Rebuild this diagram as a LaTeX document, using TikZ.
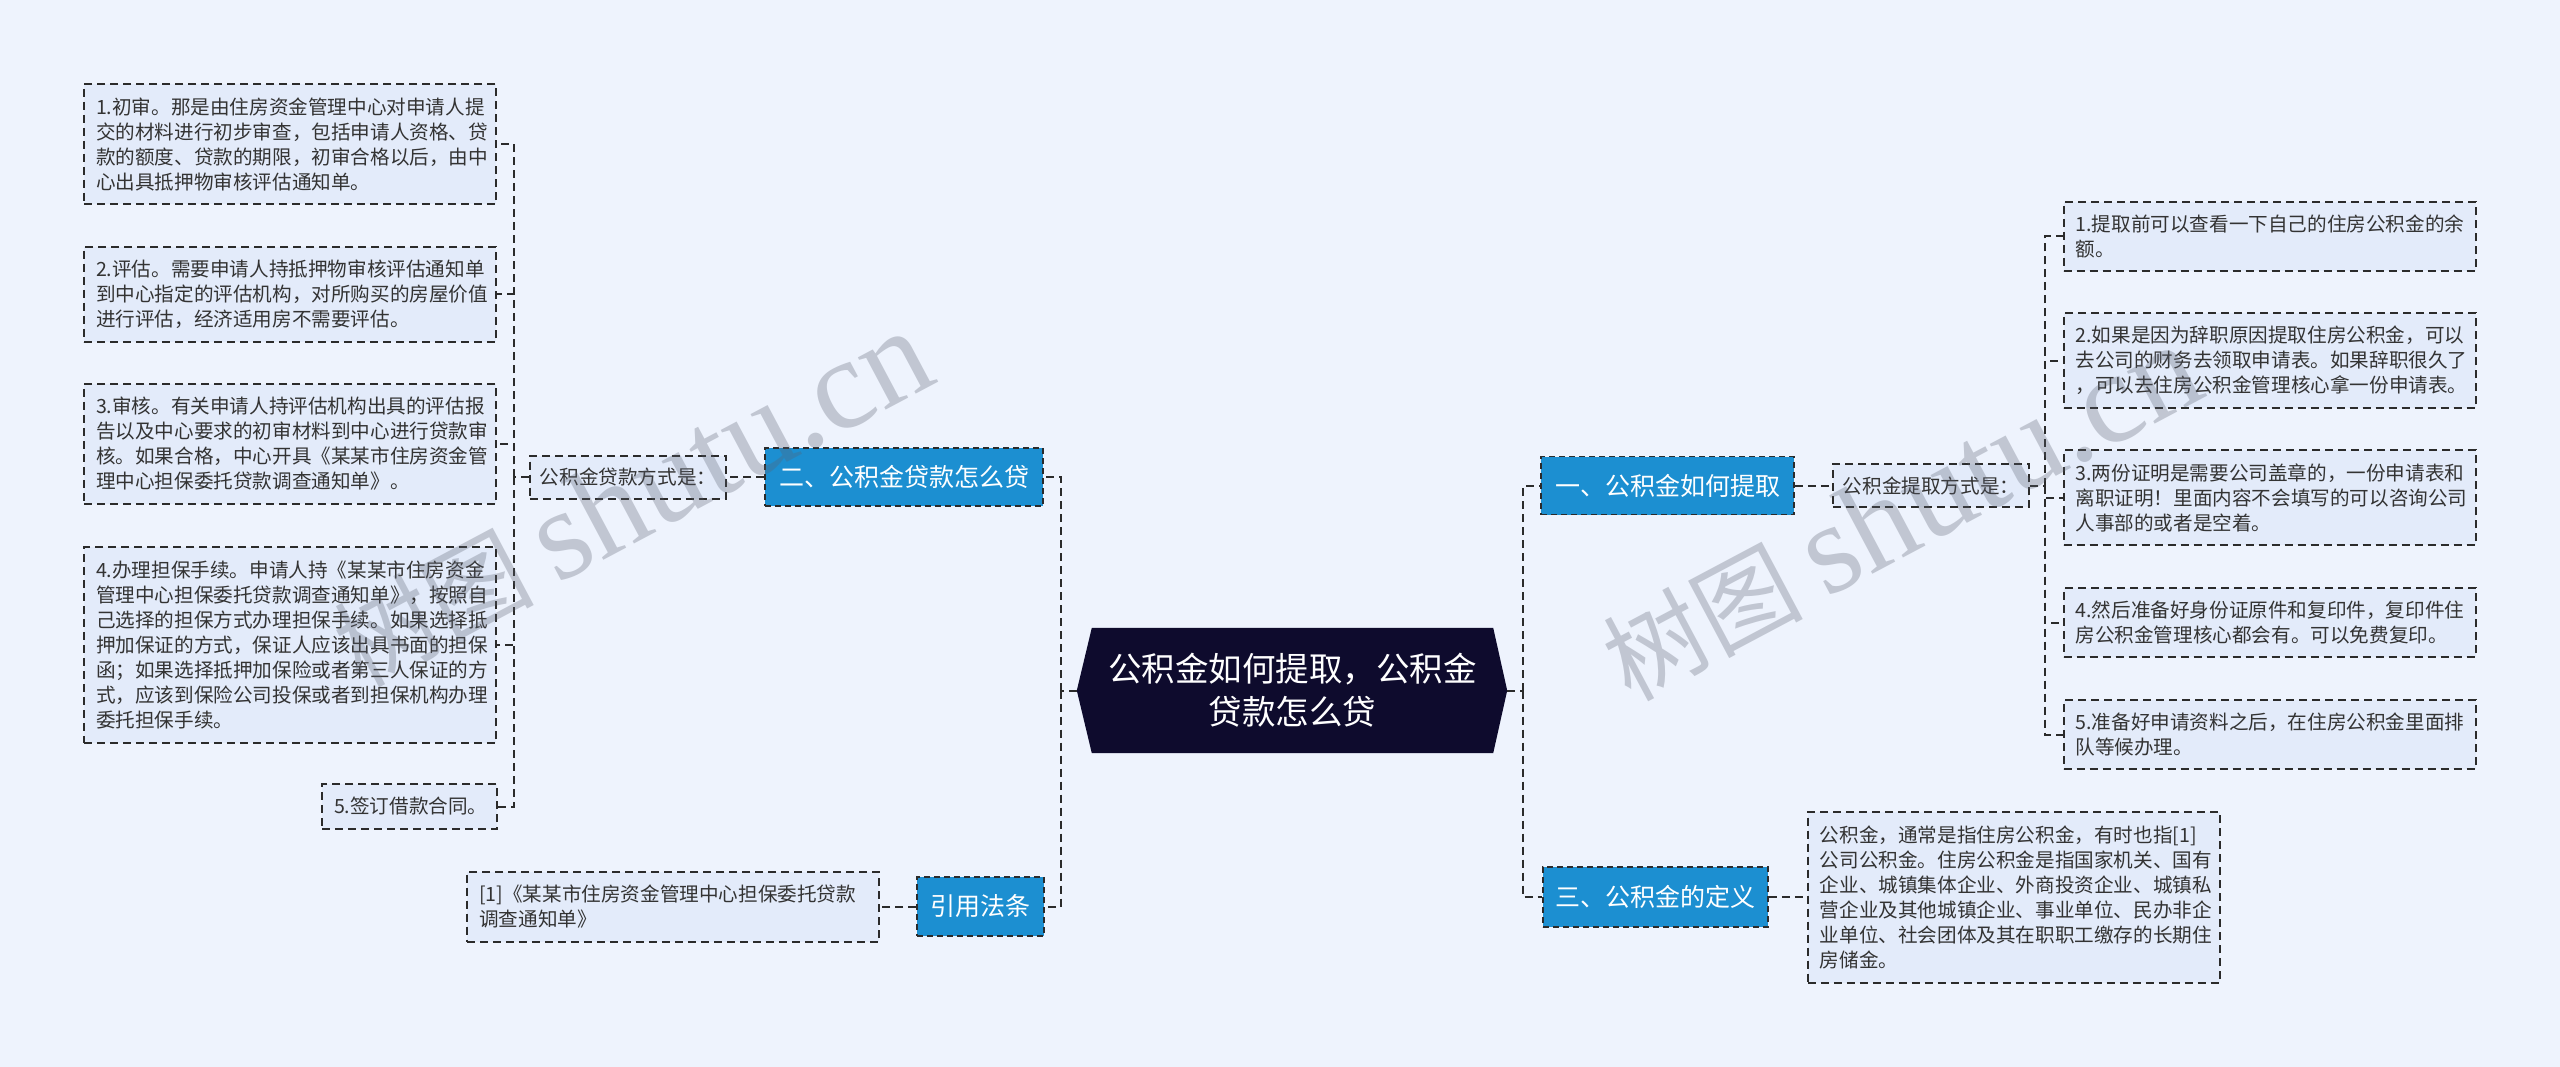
\documentclass[tikz,border=0pt]{standalone}
\usepackage{fontspec}
\setmainfont{Noto Sans CJK SC}
\newfontfamily\marklatin{Liberation Serif}
\usetikzlibrary{
  positioning,
  calc,
  backgrounds
}
\definecolor{pagebg}{HTML}{EEF3FD}
\definecolor{leaffill}{HTML}{E3EBFA}
\definecolor{linedark}{HTML}{2B2B2B}
\definecolor{textdark}{HTML}{333333}
\definecolor{branchblue}{HTML}{1C8FD1}
\definecolor{rootnavy}{HTML}{0E0B2D}
\definecolor{markgray}{HTML}{5A6070}
\newcommand{\leaffont}{\fontsize{19.6}{25}\selectfont}
\newcommand{\branchfont}{\fontsize{25}{30}\selectfont}
\newcommand{\rootfont}{\fontsize{33.5}{43}\selectfont}
\newcommand{\markfont}{\fontsize{100}{100}\selectfont}
\tikzset{
  dashbox/.style={
    rectangle, draw=linedark, fill=leaffill, line width=2pt,
    dash pattern=on 8pt off 5pt, text=textdark, font=\leaffont
  },
  leafbox/.style={
    dashbox, align=left, text width=388pt, inner xsep=12pt, inner ysep=6pt
  },
  link/.style={draw=linedark, line width=2pt, dash pattern=on 8pt off 5pt},
}

\begin{document}
\begin{tikzpicture}[
  x=1pt, y=-1pt,
  branchnode/.style={rectangle, fill=branchblue, draw=linedark, line width=1.6pt, dash pattern=on 6pt off 4pt, text=white, font=\branchfont, inner xsep=10pt, minimum height=58pt},
  modebox/.style={dashbox, inner xsep=10pt, minimum width=195pt, minimum height=43pt},
  rootnode/.style={rectangle, text=white, font=\rootfont, align=center, minimum width=401pt, minimum height=125pt, inner sep=0pt},
  watermark/.style={text=markgray, text opacity=0.3, inner sep=0pt, font=\markfont},
]
\useasboundingbox (0,0) rectangle (2560,1067);
\begin{scope}[on background layer]
  \fill[pagebg] (0,0) rectangle (2560,1067);
\end{scope}

% Root
\node[rootnode] (root) at (1292.5, 690.5) {公积金如何提取，公积金\\贷款怎么贷};
\coordinate (rootW) at ($(root.west)+(-15,0)$);
\coordinate (rootE) at ($(root.east)+(14,0)$);
\begin{scope}[on background layer]
  \fill[rootnavy] (root.north west) -- (root.north east) -- (rootE) -- (root.south east) -- (root.south west) -- (rootW) -- cycle;
\end{scope}

% Left branch: loans
\node[branchnode, minimum width=278pt] (b2) at (904, 477) {二、公积金贷款怎么贷};
\node[modebox, left=37pt of b2] (mode2) {公积金贷款方式是：};

\node[leafbox, minimum height=120pt] (L1) at (290, 144) {1.初审。那是由住房资金管理中心对申请人提\\交的材料进行初步审查，包括申请人资格、贷\\款的额度、贷款的期限，初审合格以后，由中\\心出具抵押物审核评估通知单。};
\node[leafbox, minimum height=95pt] (L2) at (290, 294.5) {2.评估。需要申请人持抵押物审核评估通知单\\到中心指定的评估机构，对所购买的房屋价值\\进行评估，经济适用房不需要评估。};
\node[leafbox, minimum height=120pt] (L3) at (290, 444) {3.审核。有关申请人持评估机构出具的评估报\\告以及中心要求的初审材料到中心进行贷款审\\核。如果合格，中心开具《某某市住房资金管\\理中心担保委托贷款调查通知单》。};
\node[leafbox, minimum height=196pt] (L4) at (290, 645) {4.办理担保手续。申请人持《某某市住房资金\\管理中心担保委托贷款调查通知单》，按照自\\己选择的担保方式办理担保手续。如果选择抵\\押加保证的方式，保证人应该出具书面的担保\\函；如果选择抵押加保险或者第三人保证的方\\式，应该到保险公司投保或者到担保机构办理\\委托担保手续。};
\node[leafbox, text width=151pt, minimum height=45pt] (L5) at (409.5, 806.5) {5.签订借款合同。};

% Left branch: law
\node[branchnode, minimum width=127pt, minimum height=59pt] (law) at (980.5, 906.5) {引用法条};
\node[leafbox, minimum height=70pt, left=36pt of law] (ref) {[1]《某某市住房资金管理中心担保委托贷款\\调查通知单》};

% Right branch: withdrawal
\node[branchnode, minimum width=253pt] (b1) at (1667.5, 485.5) {一、公积金如何提取};
\node[modebox, right=37pt of b1] (mode1) {公积金提取方式是：};

\node[leafbox, minimum height=69pt] (R1) at (2269.5, 236.5) {1.提取前可以查看一下自己的住房公积金的余\\额。};
\node[leafbox, minimum height=95pt] (R2) at (2269.5, 360.5) {2.如果是因为辞职原因提取住房公积金，可以\\去公司的财务去领取申请表。如果辞职很久了\\，可以去住房公积金管理核心拿一份申请表。};
\node[leafbox, minimum height=95pt] (R3) at (2269.5, 497.5) {3.两份证明是需要公司盖章的，一份申请表和\\离职证明！里面内容不会填写的可以咨询公司\\人事部的或者是空着。};
\node[leafbox, minimum height=69pt] (R4) at (2269.5, 622.5) {4.然后准备好身份证原件和复印件，复印件住\\房公积金管理核心都会有。可以免费复印。};
\node[leafbox, minimum height=69pt] (R5) at (2269.5, 734.5) {5.准备好申请资料之后，在住房公积金里面排\\队等候办理。};

% Right branch: definition
\node[branchnode, minimum width=225pt, minimum height=60pt] (b3) at (1655.5, 897) {三、公积金的定义};
\node[leafbox, minimum height=171pt, right=38pt of b3] (def) {公积金，通常是指住房公积金，有时也指[1]\\公司公积金。住房公积金是指国家机关、国有\\企业、城镇集体企业、外商投资企业、城镇私\\营企业及其他城镇企业、事业单位、民办非企\\业单位、社会团体及其在职职工缴存的长期住\\房储金。};

% Connectors
\coordinate (ltrunk) at (1061, 690.5);
\coordinate (rtrunk) at (1523, 690.5);
\coordinate (lbr) at (514, 477);
\coordinate (rbr) at (2045, 485.5);
\draw[link] (rootW) -- (ltrunk);
\draw[link] (ltrunk) |- (b2.east);
\draw[link] (ltrunk) |- (law.east);
\draw[link] (rootE) -- (rtrunk);
\draw[link] (rtrunk) |- (b1.west);
\draw[link] (rtrunk) |- (b3.west);
\draw[link] (b2.west) -- (mode2.east);
\draw[link] (mode2.west) -- (lbr);
\foreach \i in {1,...,5} \draw[link] (lbr) |- (L\i.east);
\draw[link] (law.west) -- (ref.east);
\draw[link] (b1.east) -- (mode1.west);
\draw[link] (mode1.east) -- (rbr);
\foreach \i in {1,...,5} \draw[link] (rbr) |- (R\i.west);
\draw[link] (b3.east) -- (def.west);

% Watermarks
\node[watermark, rotate=28, anchor=base west] (markL) at (361, 689) {树图\hspace{22pt}{\marklatin\fontsize{129}{129}\selectfont shutu.cn}};
\node[watermark, rotate=28, anchor=base west] (markR) at (1630, 703) {树图\hspace{22pt}{\marklatin\fontsize{129}{129}\selectfont shutu.cn}};

\end{tikzpicture}
\end{document}
